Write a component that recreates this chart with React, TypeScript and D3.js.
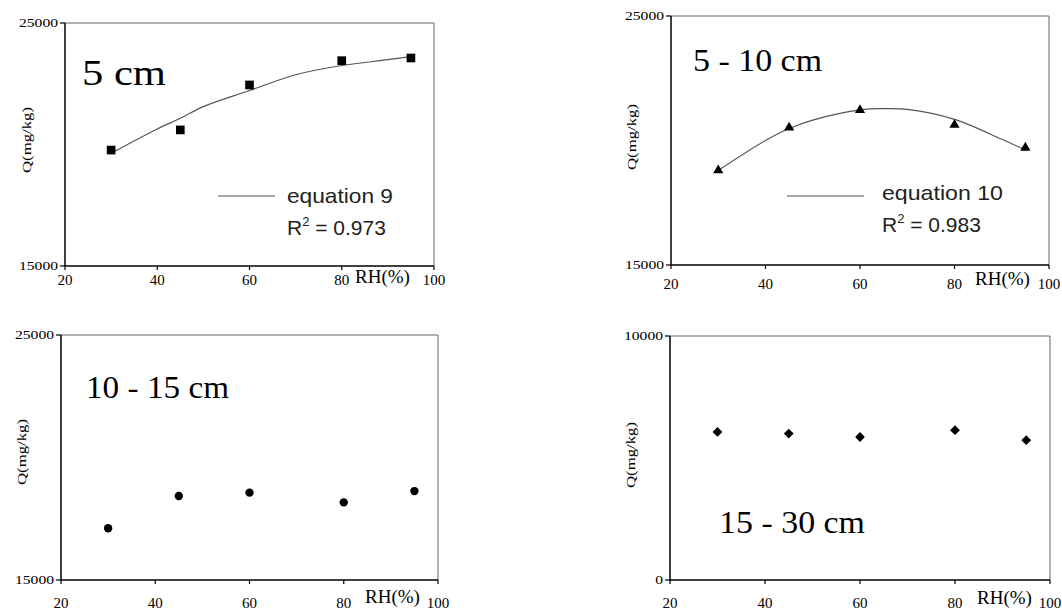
import React from 'react'
import * as d3 from 'd3'

// relative humidity of the five measurements
const rh = [30, 45, 60, 80, 95]
const xTicks = [20, 40, 60, 80, 100]

// measured Q (mg/kg) for each depth
const q5cm = [19770, 20600, 22450, 23450, 23560]
const q5to10 = [18800, 20520, 21220, 20630, 19710]
const q10to15 = [17110, 18430, 18565, 18170, 18630]
const q15to30 = [6070, 6000, 5860, 6140, 5730]

// fitted curves
const fit9X = [30, 40, 45, 50, 60, 70, 80, 90, 95]
const fit9Y = [19640, 20640, 21080, 21560, 22220, 22870, 23250, 23490, 23620]
const fit10X = [30, 40, 45, 50, 60, 65, 70, 80, 90, 95]
const fit10Y = [18800, 20000, 20480, 20820, 21230, 21280, 21250, 20850, 20050, 19620]

const yTicksHigh = [15000, 25000]
const yTicksLow = [0, 10000]

const serif = '"Liberation Serif", "Times New Roman", serif'
const sans = '"Liberation Sans", Arial, sans-serif'

type PanelProps = {
  box: { x0: number; x1: number; y0: number; y1: number }
  yDomain: number[]
  yTicks: number[]
  values: number[]
  symbol: d3.SymbolType
  symbolSize: number
  rotate?: number
  title: string
  titlePos: { x: number; y: number; size: number; len: number }
  qLabel: { x: number; y: number }
  tickBase: number
  rhPos: { x: number; y: number }
  fit?: { xs: number[]; ys: number[]; name: string; r2: string; lx0: number; lx1: number; ly: number; tx: number; ty: number; len: number }
}

function Panel(p: PanelProps) {
  const { x0, x1, y0, y1 } = p.box
  const x = d3.scaleLinear().domain([20, 100]).range([x0, x1])
  const y = d3.scaleLinear().domain(p.yDomain).range([y1, y0])
  const sym = d3.symbol(p.symbol, p.symbolSize)()
  const line = d3.line<number>()
    .x((d) => x(d))
    .y((d, i) => y(p.fit ? p.fit.ys[i] : 0))
    .curve(d3.curveCatmullRom)

  return (
    <g>
      {/* frame */}
      <line x1={x0} x2={x1} y1={y0} y2={y0} stroke="#666" strokeWidth={1} />
      <line x1={x1} x2={x1} y1={y0} y2={y1} stroke="#666" strokeWidth={1} />
      <line x1={x0} x2={x0} y1={y0} y2={y1} stroke="#000" strokeWidth={1.5} />
      <line x1={x0} x2={x1} y1={y1} y2={y1} stroke="#000" strokeWidth={1.5} />

      {p.yTicks.map((t) => {
        const s = String(t)
        return (
          <g key={t}>
            <line x1={x0 - 5} x2={x0} y1={y(t)} y2={y(t)} stroke="#000" strokeWidth={1.2} />
            <text x={x0 - 7} y={y(t) + 4} textAnchor="end" fontFamily={serif} fontSize={12.5}
              textLength={s.length * 7.8} lengthAdjust="spacingAndGlyphs">{s}</text>
          </g>
        )
      })}
      {xTicks.map((t) => (
        <g key={t}>
          <line x1={x(t)} x2={x(t)} y1={y1} y2={y1 + 4} stroke="#000" strokeWidth={1.2} />
          <text x={x(t)} y={p.tickBase} textAnchor="middle" fontFamily={serif} fontSize={15}>{t}</text>
        </g>
      ))}

      <text x={p.rhPos.x} y={p.rhPos.y} fontFamily={serif} fontSize={19}>RH(%)</text>
      <text transform={`translate(${p.qLabel.x},${p.qLabel.y}) rotate(-90)`} textAnchor="middle"
        fontFamily={serif} fontSize={13.5} textLength={66} lengthAdjust="spacingAndGlyphs">Q(mg/kg)</text>

      <text x={p.titlePos.x} y={p.titlePos.y} fontFamily={serif} fontSize={p.titlePos.size}
        textLength={p.titlePos.len} lengthAdjust="spacingAndGlyphs">{p.title}</text>

      {p.fit && (
        <g>
          <path d={line(p.fit.xs) || ''} fill="none" stroke="#555" strokeWidth={1.2} />
          <line x1={p.fit.lx0} x2={p.fit.lx1} y1={p.fit.ly} y2={p.fit.ly} stroke="#555" strokeWidth={1.2} />
          <text x={p.fit.tx} y={p.fit.ty} fontFamily={sans} fontSize={21} fill="#222"
            textLength={p.fit.len} lengthAdjust="spacingAndGlyphs">{p.fit.name}</text>
          <text x={p.fit.tx} y={p.fit.ty + 32} fontFamily={sans} fontSize={21} fill="#222">
            R<tspan dy={-9} fontSize={13}>2</tspan><tspan dy={9}> = {p.fit.r2}</tspan>
          </text>
        </g>
      )}

      {p.values.map((v, i) => (
        <path key={i} d={sym || ''} fill="#000"
          transform={`translate(${x(rh[i])},${y(v)}) rotate(${p.rotate || 0})`} />
      ))}
    </g>
  )
}

export default function App() {
  return (
    <svg width={1062} height={613} style={{ position: 'absolute', left: 0, top: 0, background: '#fff' }}>
      <rect width={1062} height={613} fill="#fff" />
      <Panel
        box={{ x0: 65, x1: 434, y0: 23, y1: 266 }}
        yDomain={[15000, 25000]} yTicks={yTicksHigh} values={q5cm}
        symbol={d3.symbolSquare} symbolSize={75}
        title="5 cm" titlePos={{ x: 82, y: 85, size: 36, len: 84 }}
        qLabel={{ x: 31, y: 140 }} tickBase={285} rhPos={{ x: 355, y: 283 }}
        fit={{ xs: fit9X, ys: fit9Y, name: 'equation 9', r2: '0.973', lx0: 218, lx1: 275, ly: 196, tx: 287, ty: 203, len: 106 }}
      />
      <Panel
        box={{ x0: 671, x1: 1049, y0: 16, y1: 265 }}
        yDomain={[15000, 25000]} yTicks={yTicksHigh} values={q5to10}
        symbol={d3.symbolTriangle} symbolSize={45}
        title="5 - 10 cm" titlePos={{ x: 693, y: 71, size: 32, len: 129 }}
        qLabel={{ x: 636, y: 137 }} tickBase={289} rhPos={{ x: 975, y: 285 }}
        fit={{ xs: fit10X, ys: fit10Y, name: 'equation 10', r2: '0.983', lx0: 787, lx1: 864, ly: 196, tx: 882, ty: 200, len: 121 }}
      />
      <Panel
        box={{ x0: 61, x1: 438, y0: 335, y1: 580 }}
        yDomain={[15000, 25000]} yTicks={yTicksHigh} values={q10to15}
        symbol={d3.symbolCircle} symbolSize={55}
        title="10 - 15 cm" titlePos={{ x: 86, y: 398, size: 31, len: 143 }}
        qLabel={{ x: 26, y: 452 }} tickBase={608} rhPos={{ x: 365, y: 603 }}
      />
      <Panel
        box={{ x0: 670, x1: 1050, y0: 336, y1: 580 }}
        yDomain={[0, 10000]} yTicks={yTicksLow} values={q15to30}
        symbol={d3.symbolSquare} symbolSize={48} rotate={45}
        title="15 - 30 cm" titlePos={{ x: 719, y: 533, size: 32, len: 146 }}
        qLabel={{ x: 635, y: 455 }} tickBase={608} rhPos={{ x: 977, y: 604 }}
      />
    </svg>
  )
}
